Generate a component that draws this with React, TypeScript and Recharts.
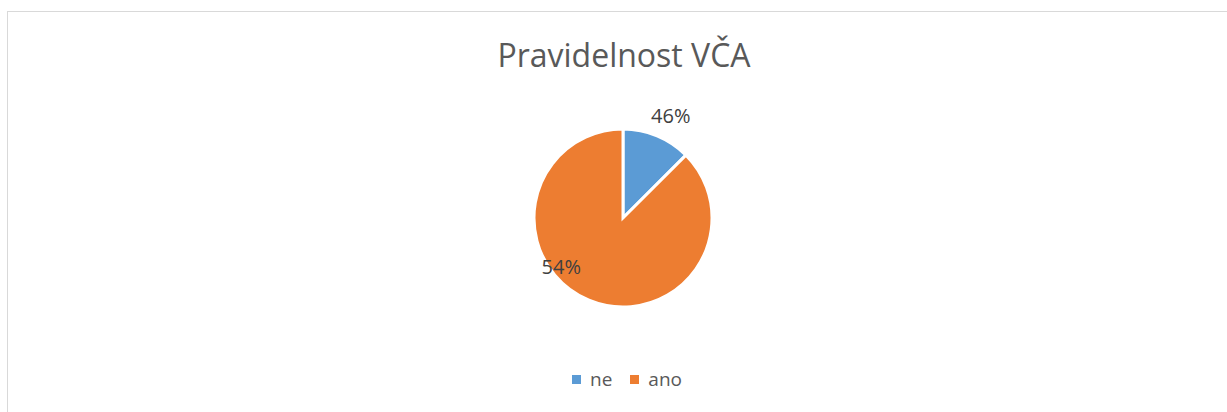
import { PieChart, Pie, Cell } from "recharts";

const categories = ["ne", "ano"];
const shares = [12.5, 87.5];
const labelTexts = ["46%", "54%"];
const colors = ["#5b9bd5", "#ed7d31"];

const data = categories.map((name, i) => ({
  name,
  value: shares[i],
  label: labelTexts[i],
}));

// where Excel put each data label: angle (deg, counter-clockwise from 3 o'clock) and radius factor
const labelPlacement = [
  { angle: 65, r: 1.27 },
  { angle: 218, r: 0.88 },
];

const FONT = "'Open Sans', sans-serif";

const renderLabel = (props: any) => {
  const { cx, cy, outerRadius, index } = props;
  const p = labelPlacement[index];
  const rad = (p.angle * Math.PI) / 180;
  const x = cx + outerRadius * p.r * Math.cos(rad);
  const y = cy - outerRadius * p.r * Math.sin(rad);
  return (
    <text
      x={x}
      y={y}
      textAnchor="middle"
      dominantBaseline="central"
      fill="#404040"
      fontSize={20}
      fontFamily={FONT}
    >
      {data[index].label}
    </text>
  );
};

const App = () => {
  return (
    <div
      style={{
        position: "absolute",
        left: 0,
        top: 0,
        width: 1227,
        height: 412,
        overflow: "hidden",
        background: "#fff",
      }}
    >
      <div
        style={{
          position: "absolute",
          left: 7,
          top: 11,
          width: 1300,
          height: 500,
          borderLeft: "1.5px solid #d9d9d9",
          borderTop: "1.5px solid #d9d9d9",
        }}
      />
      <div style={{ position: "absolute", left: 0, top: 0 }}>
        <PieChart width={1227} height={412} margin={{ top: 0, right: 0, bottom: 0, left: 0 }}>
          <text
            x={624}
            y={67}
            textAnchor="middle"
            fill="#595959"
            fontSize={32}
            fontFamily={FONT}
          >
            Pravidelnost VČA
          </text>
          <Pie
            data={data}
            dataKey="value"
            nameKey="name"
            cx={623}
            cy={218}
            outerRadius={89}
            startAngle={90}
            endAngle={-270}
            stroke="#fff"
            strokeWidth={3}
            label={renderLabel}
            labelLine={false}
            isAnimationActive={false}
          >
            {data.map((d, i) => (
              <Cell key={d.name} fill={colors[i]} />
            ))}
          </Pie>
        </PieChart>
      </div>
      <div
        style={{
          position: "absolute",
          left: 0,
          top: 367,
          width: 1254,
          display: "flex",
          justifyContent: "center",
          alignItems: "center",
          fontFamily: FONT,
          fontSize: 19,
          color: "#595959",
          lineHeight: "24px",
        }}
      >
        {categories.map((c, i) => (
          <span
            key={c}
            style={{
              display: "flex",
              alignItems: "center",
              marginRight: i < categories.length - 1 ? 18 : 0,
            }}
          >
            <span
              style={{
                width: 9,
                height: 9,
                background: colors[i],
                marginRight: 9,
                display: "inline-block",
              }}
            />
            {c}
          </span>
        ))}
      </div>
    </div>
  );
};

export default App;
